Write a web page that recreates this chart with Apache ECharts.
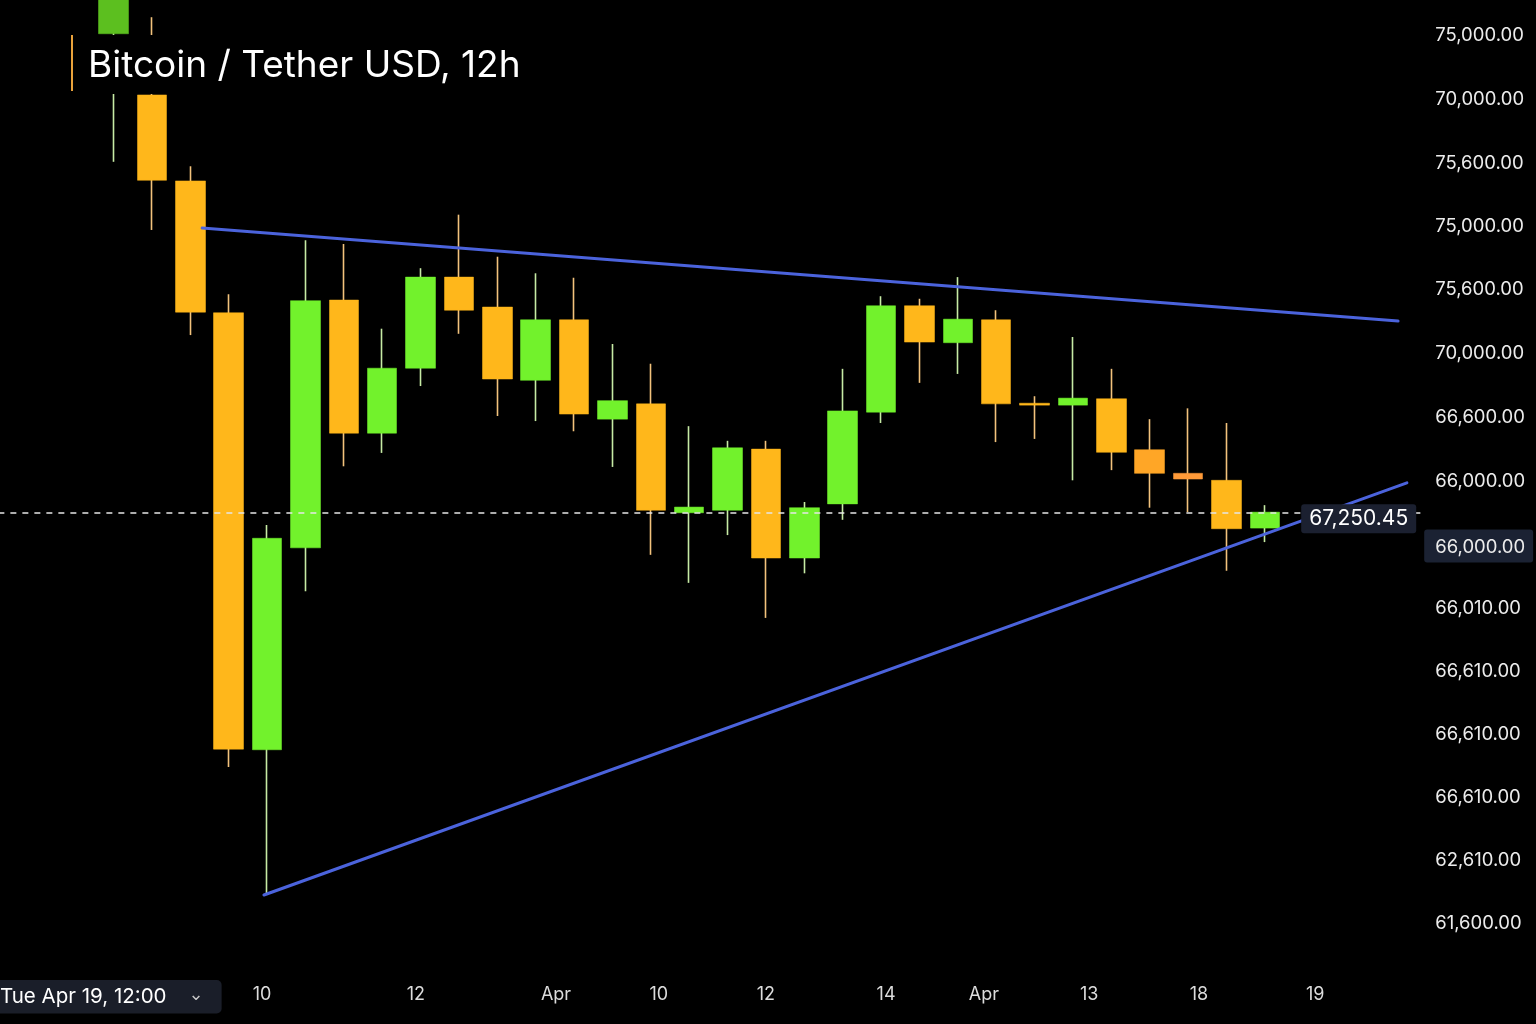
<!DOCTYPE html>
<html>
<head>
<meta charset="utf-8">
<script src="https://cdn.jsdelivr.net/npm/echarts@6/dist/echarts.min.js"></script>
<style>
html,body{margin:0;padding:0;background:#000;}
#chart{width:1536px;height:1024px;}
</style>
</head>
<body>
<div id="chart"></div>
<script>
// ---- data ----
const opens  = [74980,74020,72670,70600,63740,66910,70800,68710,69730,71160,70690,69540,70490,68930,69170,67460,67500,68460,66750,67600,69040,70710,70130,70490,69180,69150,69250,68450,68080,67970,67220];
const closes = [75800,72680,70610,63750,67060,70790,68710,69730,71160,70640,69560,70490,69010,69220,67500,67550,68480,66750,67540,69060,70710,70140,70500,69170,69150,69260,68410,68080,67990,67210,67470];
const lows   = [72970,71900,70250,63470,61490,66230,68190,68400,69450,70270,68980,68900,68740,68180,66800,66360,67110,65810,66510,67350,68870,69500,69640,68570,68620,67970,68130,67540,67470,66550,67000];
const highs  = [75950,75240,72900,70890,67270,71740,71680,70350,71300,72140,71480,71220,71150,70110,69800,68820,68590,68590,67630,69720,70860,70820,71160,70640,69290,70220,69720,68930,69100,68870,67580];

// x-axis tick positions (in candle-index units) and their labels
const xTickPos    = [3.87, 7.88, 11.53, 14.21, 17.0, 20.13, 22.68, 25.42, 28.28, 31.31];
const xTickLabels = ['10', '12', 'Apr', '10', '12', '14', 'Apr', '13', '18', '19'];

const yTickPos    = [74950, 73950, 72950, 71960, 70970, 69960, 68960, 67950, 66940, 65960, 64970, 63980, 62990, 62000, 61010];
const yTickLabels = ['75,000.00','70,000.00','75,600.00','75,000.00','75,600.00','70,000.00','66,600.00','66,000.00','66,000.00','66,010.00','66,610.00','66,610.00','66,610.00','62,610.00','61,600.00'];
const yHighlightIndex = 8;

// trend lines [candle index, price]
const upperTrend = [[2.31, 71930], [33.47, 70470]];
const lowerTrend = [[3.92, 61460], [33.70, 67930]];

// last price line
const lastPrice = 67460;
const lastPriceLabel = '67,250.45';

const titleText = 'Bitcoin / Tether USD, 12h';
const dateBoxText = 'Tue Apr 19, 12:00';

// ---- styles ----
const GREEN = '#72F22C', ORANGE = '#FFB71B';
const GREEN_WICK = '#c6eaa4', ORANGE_WICK = '#f2c27c';
const styleOverride = {0: '#5cbf1f', 27: '#FFA626', 28: '#FF9a38'};
const FONT = 'Inter';

const wickData = opens.map((o, i) => [i, o, closes[i], lows[i], highs[i]]);
const bodyData = opens.map((o, i) => {
  const c = closes[i];
  const item = {value: [i, o, c, Math.min(o, c), Math.max(o, c)]};
  if (styleOverride[i]) {
    item.itemStyle = {color: styleOverride[i], color0: styleOverride[i], borderColor: styleOverride[i], borderColor0: styleOverride[i]};
  }
  return item;
});

const chart = echarts.init(document.getElementById('chart'));
chart.setOption({
  backgroundColor: '#000',
  animation: false,
  title: [{
    text: '{bar| }{t|' + titleText + '}',
    left: 66, top: 35,
    backgroundColor: '#000',
    padding: [0, 12, 3, 5],
    textStyle: {
      fontWeight: 'normal',
      rich: {
        bar: {width: 2, height: 56, backgroundColor: '#e9a23b'},
        t: {fontSize: 37, color: '#ffffff', fontFamily: FONT, fontWeight: 'normal', padding: [6, 0, 0, 15]}
      }
    }
  }, {
    text: '{d|' + dateBoxText + '}{c|⌄}',
    left: 0, top: 980,
    backgroundColor: '#1a1e29',
    borderRadius: [0, 5, 5, 0],
    padding: [6, 18, 6, 0],
    textStyle: {
      fontWeight: 'normal',
      rich: {
        d: {fontSize: 20.5, color: '#ffffff', fontFamily: FONT, fontWeight: 'normal'},
        c: {fontSize: 18, color: '#c8c8c8', fontFamily: 'DejaVu Sans', fontWeight: 'normal', padding: [0, 0, 4, 22]}
      }
    }
  }],
  grid: {left: -1.64, right: 112.8, top: -31.2, bottom: 36, outerBoundsMode: 'none', containLabel: false},
  xAxis: {
    type: 'value',
    min: -3, max: 34.125,
    axisLine: {show: false},
    axisTick: {show: false},
    splitLine: {show: false},
    axisLabel: {
      customValues: xTickPos,
      margin: -2,
      color: '#dcdcdc',
      fontSize: 18,
      fontFamily: FONT,
      formatter: function (v) {
        for (let k = 0; k < xTickPos.length; k++) {
          if (Math.abs(xTickPos[k] - v) < 1e-6) return xTickLabels[k];
        }
        return '';
      }
    }
  },
  yAxis: {
    type: 'value',
    position: 'right',
    min: 60000, max: 76000,
    axisLine: {show: false},
    axisTick: {show: false},
    splitLine: {show: false},
    axisLabel: {
      customValues: yTickPos,
      margin: 1,
      formatter: function (v) {
        let idx = -1;
        for (let k = 0; k < yTickPos.length; k++) {
          if (Math.abs(yTickPos[k] - v) < 1e-6) idx = k;
        }
        if (idx < 0) return '';
        return (idx === yHighlightIndex ? '{hl|' : '{n|') + yTickLabels[idx] + '}';
      },
      rich: {
        n: {fontSize: 18.5, color: '#ececec', fontFamily: FONT, padding: [7, 8, 7, 11]},
        hl: {fontSize: 18.5, color: '#ececec', fontFamily: FONT, padding: [9, 8, 5, 11], backgroundColor: '#1b2233', borderRadius: 3}
      }
    }
  },
  series: [{
    name: 'wicks',
    type: 'candlestick',
    data: wickData,
    encode: {x: 0, y: [1, 2, 3, 4]},
    barWidth: 1,
    itemStyle: {color: GREEN_WICK, color0: ORANGE_WICK, borderColor: GREEN_WICK, borderColor0: ORANGE_WICK, borderWidth: 1.6}
  }, {
    name: 'bodies',
    type: 'candlestick',
    data: bodyData,
    encode: {x: 0, y: [1, 2, 3, 4]},
    barWidth: 30,
    itemStyle: {color: GREEN, color0: ORANGE, borderColor: GREEN, borderColor0: ORANGE, borderWidth: 0.5}
  }, {
    name: 'upper',
    type: 'line',
    data: upperTrend,
    showSymbol: false,
    lineStyle: {color: '#4b63dc', width: 3, cap: 'round'},
    z: 3
  }, {
    name: 'lower',
    type: 'line',
    data: lowerTrend,
    showSymbol: false,
    lineStyle: {color: '#4b63dc', width: 3, cap: 'round'},
    z: 3
  }, {
    name: 'last',
    type: 'line',
    data: [],
    z: 10,
    markLine: {
      z: 10,
      silent: true,
      symbol: ['none', 'none'],
      data: [{yAxis: lastPrice}],
      lineStyle: {color: '#e6e6e6', type: [6, 6], width: 1.5},
      label: {
        position: 'insideEnd',
        distance: 7,
        offset: [0, 6],
        formatter: lastPriceLabel,
        backgroundColor: '#1b2030',
        color: '#ffffff',
        fontSize: 21,
        fontFamily: FONT,
        padding: [4, 8],
        borderRadius: 3
      }
    }
  }]
});
</script>
</body>
</html>
